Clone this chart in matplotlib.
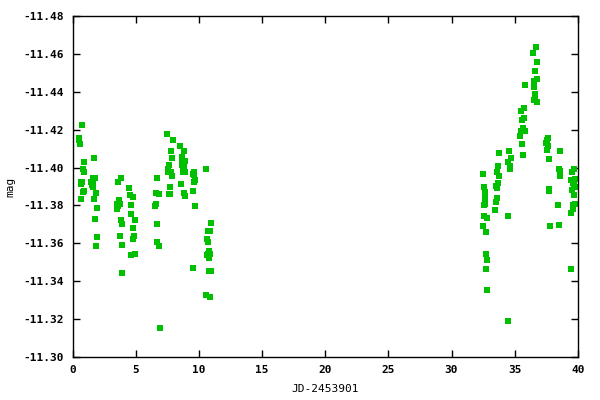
import numpy as np
import matplotlib
matplotlib.use("Agg")
import matplotlib.pyplot as plt

# light curve: days since JD 2453901 and magnitude
jd = [0.47, 0.47, 0.55, 0.71, 0.87, 0.82, 0.87, 0.63, 0.74, 0.63, 0.79, 0.87, 0.63,
      1.66, 1.58, 1.77, 1.48, 1.64, 1.53, 1.58, 1.82, 1.66, 1.90, 1.74, 1.90, 1.82,
      3.56, 3.80, 3.67, 3.51, 3.77, 3.61, 3.51, 3.80, 3.88, 3.72, 3.88, 3.88,
      4.43, 4.51, 4.75, 4.64, 4.59, 4.91, 4.75, 4.83, 4.75, 4.59, 4.91,
      6.65, 6.57, 6.81, 6.57, 6.49, 6.65, 6.65, 6.81, 6.89,
      7.44, 7.92, 7.76, 7.84, 7.60, 7.52, 7.68, 7.76, 7.52, 7.84, 7.68, 7.60, 7.68,
      8.47, 8.79, 8.63, 8.63, 8.87, 8.71, 8.63, 8.79, 8.71, 8.87, 8.71, 8.55, 8.79, 8.87,
      9.58, 9.58, 9.50, 9.66, 9.58, 9.50, 9.66, 9.50,
      10.53, 10.92, 10.69, 10.84, 10.61, 10.69, 10.77, 10.69, 10.84, 10.61, 10.77, 10.77, 10.92, 10.53, 10.84,
      32.49, 32.57, 32.65, 32.65, 32.57, 32.65, 32.57, 32.81, 32.49, 32.73, 32.73, 32.81, 32.73, 32.81,
      33.76, 33.68, 33.60, 33.76, 33.68, 33.52, 33.60, 33.60, 33.52, 33.44,
      34.55, 34.71, 34.47, 34.63, 34.63, 34.47, 34.47,
      35.57, 35.65, 35.41, 35.49, 35.65, 35.81, 35.57, 35.73, 35.49, 35.73, 35.81,
      36.68, 36.44, 36.76, 36.60, 36.52, 36.76, 36.52, 36.60, 36.60, 36.52, 36.76,
      37.63, 37.55, 37.47, 37.63, 37.55, 37.71, 37.71, 37.71, 37.79,
      38.58, 38.50, 38.58, 38.58, 38.42, 38.50,
      39.69, 39.53, 39.77, 39.45, 39.61, 39.69, 39.85, 39.53, 39.69, 39.61, 39.77, 39.61, 39.45, 39.45]

mag = [-11.4158, -11.4144, -11.4123, -11.4226, -11.4027, -11.3995, -11.3974, -11.3922, -11.3922, -11.3911, -11.3869, -11.3874, -11.3833,
       -11.4048, -11.3943, -11.3943, -11.3922, -11.3929, -11.3908, -11.3896, -11.3864, -11.3833, -11.3785, -11.3728, -11.3633, -11.3586,
       -11.3922, -11.3943, -11.3829, -11.3806, -11.3806, -11.3798, -11.3782, -11.3722, -11.3701, -11.3638, -11.3591, -11.3444,
       -11.3890, -11.3854, -11.3843, -11.3804, -11.3754, -11.3722, -11.3680, -11.3638, -11.3624, -11.3539, -11.3544,
       -11.3943, -11.3864, -11.3859, -11.3808, -11.3798, -11.3701, -11.3607, -11.3586, -11.3155,
       -11.4179, -11.4147, -11.4085, -11.4048, -11.4016, -11.3990, -11.3979, -11.3979, -11.3974, -11.3953, -11.3896, -11.3859, -11.3859,
       -11.4116, -11.4085, -11.4058, -11.4043, -11.4037, -11.4027, -11.4011, -11.4006, -11.3990, -11.3974, -11.3979, -11.3911, -11.3864, -11.3848,
       -11.3974, -11.3959, -11.3964, -11.3932, -11.3922, -11.3874, -11.3796, -11.3470,
       -11.3990, -11.3707, -11.3665, -11.3665, -11.3623, -11.3607, -11.3560, -11.3544, -11.3544, -11.3539, -11.3523, -11.3455, -11.3455, -11.3329, -11.3318,
       -11.3968, -11.3895, -11.3869, -11.3838, -11.3801, -11.3807, -11.3744, -11.3733, -11.3692, -11.3660, -11.3546, -11.3514, -11.3462, -11.3352,
       -11.4078, -11.4010, -11.3979, -11.3958, -11.3921, -11.3900, -11.3890, -11.3838, -11.3817, -11.3775,
       -11.4088, -11.4052, -11.4031, -11.4010, -11.3994, -11.3744, -11.3191,
       -11.4122, -11.4068, -11.4167, -11.4193, -11.4208, -11.4193, -11.4249, -11.4261, -11.4297, -11.4316, -11.4438,
       -11.4637, -11.4605, -11.4558, -11.4511, -11.4459, -11.4470, -11.4423, -11.4386, -11.4370, -11.4355, -11.4344,
       -11.4156, -11.4146, -11.4130, -11.4115, -11.4094, -11.4047, -11.3885, -11.3874, -11.3692,
       -11.4088, -11.3994, -11.3984, -11.3953, -11.3801, -11.3697,
       -11.3994, -11.3974, -11.3937, -11.3932, -11.3921, -11.3906, -11.3895, -11.3880, -11.3854, -11.3801, -11.3807, -11.3781, -11.3760, -11.3467]

xticks = np.arange(0, 41, 5)
yticks = np.arange(-11.48, -11.299, 0.02)

plt.rcParams['font.family'] = 'DejaVu Sans Mono'
plt.rcParams['font.weight'] = 'bold'
plt.rcParams['font.size'] = 8

fig = plt.figure(figsize=(6, 4), dpi=100)
ax = fig.add_axes([0.121, 0.1075, 0.842, 0.8525])

ax.plot(jd, mag, linestyle='none', marker='s', markersize=4.2,
        color='#00c000', markeredgewidth=0)

ax.set_xlim(0, 40)
ax.set_ylim(-11.30, -11.48)
ax.set_xticks(xticks)
ax.set_yticks(yticks)
ax.set_yticklabels([f"{v:.2f}" for v in yticks])
ax.tick_params(direction='in', length=5, width=1, top=True, right=True, pad=6)
for s in ax.spines.values():
    s.set_linewidth(1)

ax.set_xlabel("JD-2453901", labelpad=6)
ax.set_ylabel("mag", labelpad=6)

fig.savefig("out.png", dpi=100)
